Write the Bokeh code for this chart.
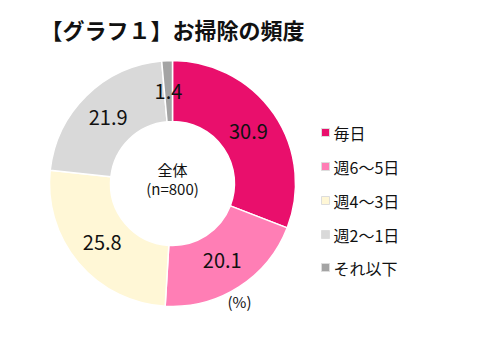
import math
from bokeh.plotting import figure
from bokeh.models import Range1d, ColumnDataSource
from bokeh.core.properties import value
from bokeh.embed import file_html
from bokeh.resources import INLINE

categories = ["毎日", "週6～5日", "週4～3日", "週2～1日", "それ以下"]
values = [30.9, 20.1, 25.8, 21.9, 1.4]
labels = ["30.9", "20.1", "25.8", "21.9", "1.4"]
colors = ["#E90F6C", "#FF7EB5", "#FFF7D6", "#D9D9D9", "#A4A4A4"]

W, H = 484, 340
FONT = "Noto Sans CJK JP"

def fy(py):
    # page pixel y -> data y (y upward)
    return H - (py - 2)

def fx(px):
    return px - 4

p = figure(width=W, height=H, output_backend="svg", toolbar_location=None,
           x_range=Range1d(0, W), y_range=Range1d(0, H),
           x_axis_location=None, y_axis_location=None, min_border=0)
p.grid.visible = False
p.outline_line_color = None
p.background_fill_color = "white"

cx, cy = fx(176), fy(185)
r_in, r_out = 62, 123
total = sum(values)
starts, ends, lx, ly = [], [], [], []
cum = 0.0
for v in values:
    a0 = math.pi / 2 - 2 * math.pi * cum / total
    cum += v
    a1 = math.pi / 2 - 2 * math.pi * cum / total
    starts.append(a0)
    ends.append(a1)
    mid = (a0 + a1) / 2
    rl = 92
    lx.append(cx + rl * math.cos(mid))
    ly.append(cy + rl * math.sin(mid))

src = ColumnDataSource(dict(start=starts, end=ends, color=colors, lx=lx, ly=ly, label=labels))
p.annular_wedge(x=cx, y=cy, inner_radius=r_in, outer_radius=r_out,
                start_angle="start", end_angle="end", direction="clock",
                fill_color="color", line_color="white", line_width=1.5, source=src)

p.text(x="lx", y="ly", text="label", source=src, text_font=value(FONT),
       text_font_size="20px", text_align="center", text_baseline="middle",
       text_color="#111111")

# center text
p.text(x=[cx, cx], y=[fy(171), fy(190)], text=["全体", "(n=800)"],
       text_font=value(FONT), text_font_size="15px", text_align="center",
       text_baseline="middle", text_color="#111111")
p.text(x=[fx(243)], y=[fy(303)], text=["(%)"], text_font=value(FONT),
       text_font_size="15px", text_align="center", text_baseline="middle",
       text_color="#111111")

# title
p.text(x=[fx(44)], y=[fy(30)], text=["【グラフ１】お掃除の頻度"], text_font=value(FONT),
       text_font_size="22px", text_font_style="bold", text_align="left",
       text_baseline="middle", text_color="#111111")

# legend
rows_py = [134, 168, 202, 236, 269]
leg = ColumnDataSource(dict(x=[fx(329)] * 5, y=[fy(v) for v in rows_py],
                            tx=[fx(337)] * 5, name=categories, color=colors))
p.rect(x="x", y="y", width=8, height=8, fill_color="color", line_color="#DDDDDD",
       line_width=1, source=leg)
p.text(x="tx", y="y", text="name", source=leg, text_font=value(FONT),
       text_font_size="16px", text_align="left", text_baseline="middle",
       text_color="#111111")

open("out.html", "w").write(file_html(p, INLINE))
